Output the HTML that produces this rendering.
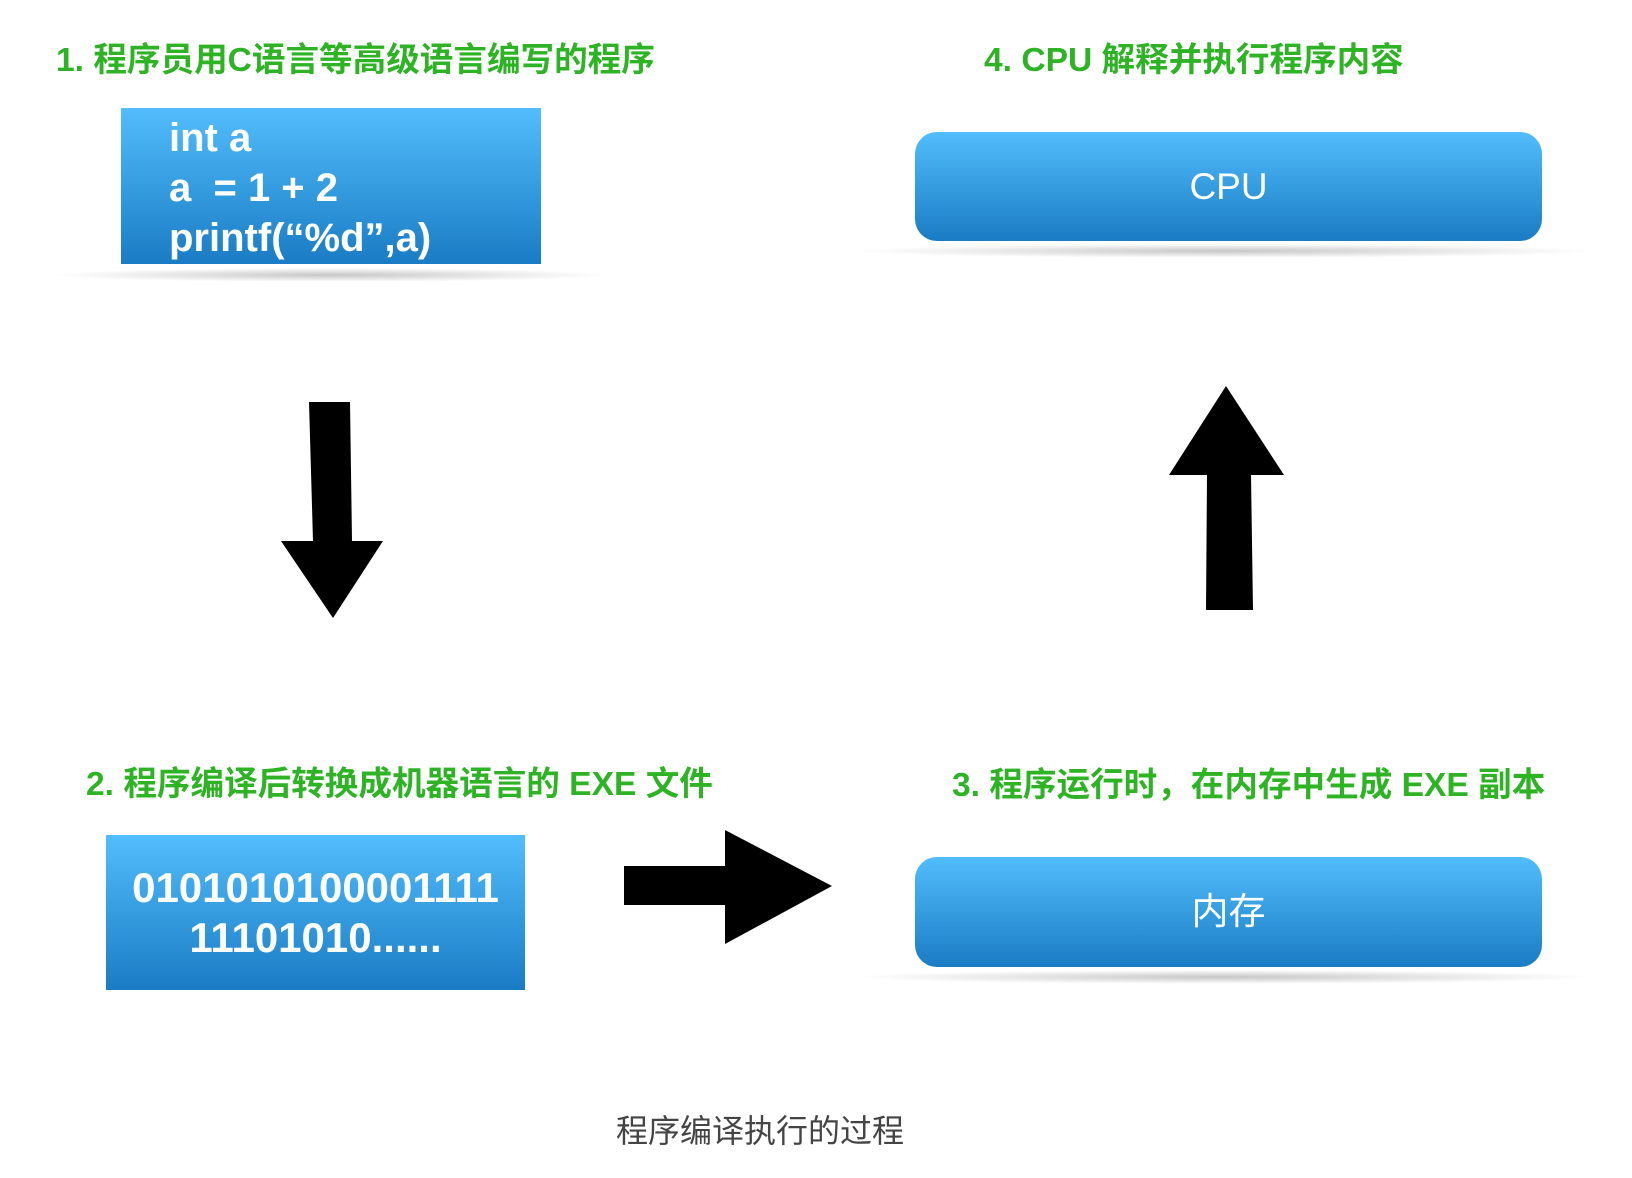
<!DOCTYPE html>
<html><head><meta charset="utf-8"><style>
body{margin:0;width:1632px;height:1178px;background:#fff;position:relative;overflow:hidden;font-family:"Liberation Sans","Noto Sans CJK SC",sans-serif}
.t{position:absolute;color:#2db324;font-weight:bold;font-size:33.6px;white-space:nowrap;line-height:40px}
.box{position:absolute;background:linear-gradient(#52bdfc,#1a7cc4);color:#fff;}
.sh{position:absolute;height:14px;border-radius:50%;background:radial-gradient(ellipse at center,rgba(0,0,0,0.22),rgba(0,0,0,0) 70%)}
</style></head><body>
<div class="t" style="left:56px;top:41px">1. 程序员用C语言等高级语言编写的程序</div>
<div class="t" style="left:984px;top:41px">4. CPU 解释并执行程序内容</div>
<div class="t" style="left:86px;top:765px">2. 程序编译后转换成机器语言的 EXE 文件</div>
<div class="t" style="left:952px;top:766px">3. 程序运行时，在内存中生成 EXE 副本</div>

<div class="sh" style="left:50px;top:268px;width:560px"></div>
<div class="box" style="left:121px;top:108px;width:420px;height:156px;font-weight:bold;font-size:40px;line-height:50px;padding-left:48px;box-sizing:border-box;padding-top:5px">int a<br>a &nbsp;= 1 + 2<br>printf(“%d”,a)</div>

<div class="sh" style="left:850px;top:244px;width:750px"></div>
<div class="box" style="left:915px;top:132px;width:627px;height:109px;border-radius:22px;font-size:37px;line-height:109px;text-align:center">CPU</div>

<div class="box" style="left:106px;top:835px;width:419px;height:155px;font-weight:bold;font-size:42px;line-height:50px;text-align:center;padding-top:28px;box-sizing:border-box">0101010100001111<br>11101010......</div>

<div class="sh" style="left:850px;top:970px;width:750px"></div>
<div class="box" style="left:915px;top:857px;width:627px;height:110px;border-radius:22px;font-size:37px;line-height:110px;text-align:center">内存</div>

<svg style="position:absolute;left:0;top:0" width="1632" height="1178">
<polygon points="309,402 350,402 352,541 383,541 333,618 281,541 313,541" fill="#000"/>
<polygon points="1226,386 1284,475 1251,475 1253,610 1206,610 1207,475 1169,475" fill="#000"/>
<polygon points="624,866 725,866 725,830 832,886 725,944 725,905 624,905" fill="#000"/>
</svg>

<div style="position:absolute;left:616px;top:1111px;font-size:32px;color:#444;white-space:nowrap;line-height:40px">程序编译执行的过程</div>
</body></html>
